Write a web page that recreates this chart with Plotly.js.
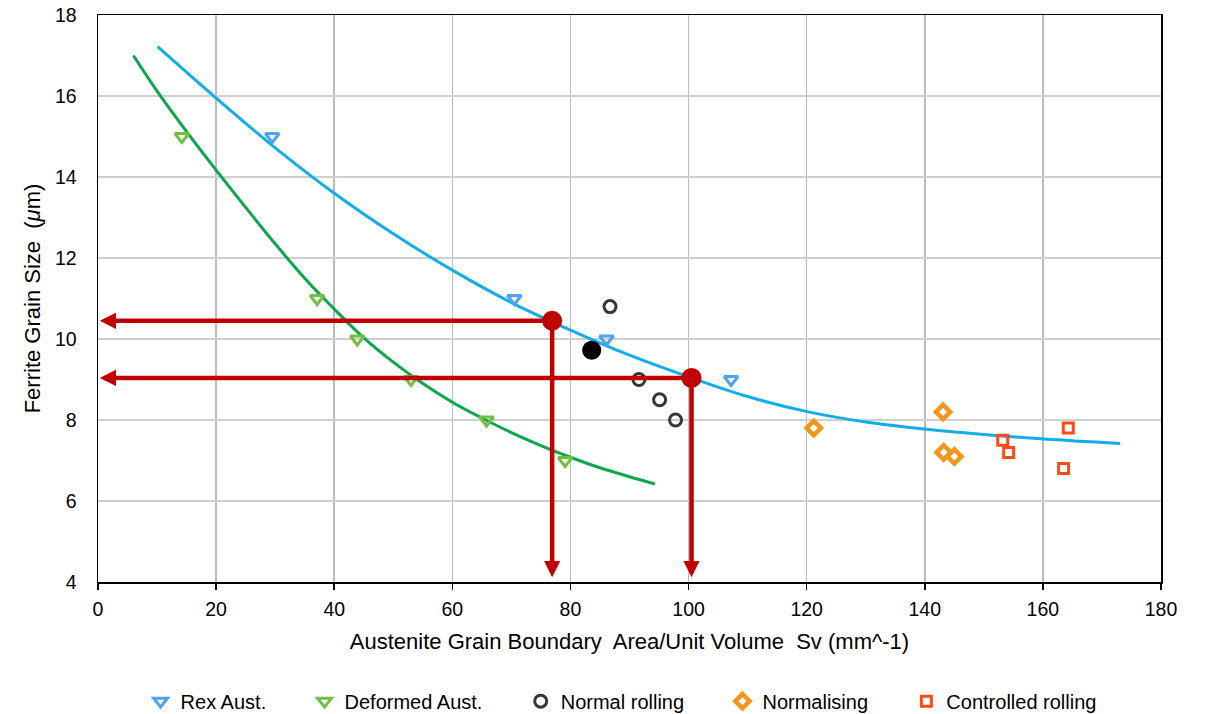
<!DOCTYPE html>
<html>
<head>
<meta charset="utf-8">
<script src="https://cdn.plot.ly/plotly-3.0.1.min.js"></script>
<style>html,body{margin:0;padding:0;background:#fff;}#chart{width:1206px;height:714px;}</style>
</head>
<body>
<div id="chart"></div>
<script>
// ---- data ----
var rexX = [29.5, 70.5, 86.1, 107.2];
var rexY = [15, 11, 10, 9];

var defX = [14.2, 37.1, 43.9, 53.0, 65.8, 79.1];
var defY = [15, 11, 10, 9, 8, 7];

var normRollX = [86.7, 91.6, 95.1, 97.8];
var normRollY = [10.8, 9.0, 8.5, 8.0];

var normalisingX = [121.2, 143.1, 143.2, 145.0];
var normalisingY = [7.8, 8.2, 7.2, 7.1];

var ctrlX = [153.2, 154.2, 164.3, 163.5];
var ctrlY = [7.5, 7.2, 7.8, 6.8];

// highlighted points
var blackX = [83.6];
var blackY = [9.72];
var redX = [76.9, 100.5];
var redY = [10.45, 9.04];
var arrowTipY = 4.12;   // bottom end of vertical arrows
var arrowTipX = 0.3;    // left end of horizontal arrows

// trend curves
var rexFitX = [10.1, 20, 30, 40, 50, 60, 70, 80, 90, 100.5, 110, 120.3, 130, 140.3, 150, 160.2, 173.1];
var rexFitY = [17.22, 15.95, 14.72, 13.6, 12.6, 11.7, 10.9, 10.22, 9.6, 9.04, 8.58, 8.2, 7.95, 7.77, 7.64, 7.53, 7.42];

var defFitX = [6, 10, 15, 20, 25, 30, 35, 40, 45, 50, 55, 60, 65, 70, 75, 80, 85, 90, 94.3];
var defFitY = [17.0, 16.12, 15.12, 14.17, 13.25, 12.35, 11.5, 10.74, 10.03, 9.43, 8.9, 8.44, 8.05, 7.69, 7.37, 7.08, 6.82, 6.6, 6.42];

var seriesNames = ['Rex Aust.', 'Deformed Aust.', 'Normal rolling', 'Normalising', 'Controlled rolling'];

var xTicks = [0, 20, 40, 60, 80, 100, 120, 140, 160, 180];
var yTicks = [4, 6, 8, 10, 12, 14, 16, 18];

var FONT = 'Liberation Sans, Arial, Helvetica, sans-serif';
var RED = '#c00000';
var PAD = '\u00a0\u00a0\u00a0\u00a0\u00a0\u00a0';
function legName(i) { return i < seriesNames.length - 1 ? seriesNames[i] + PAD : seriesNames[i]; }

var traces = [
  {x: rexFitX, y: rexFitY, mode: 'lines', line: {color: '#12aeea', width: 3, shape: 'spline'}, showlegend: false, hoverinfo: 'skip'},
  {x: defFitX, y: defFitY, mode: 'lines', line: {color: '#0aa84a', width: 3, shape: 'spline'}, showlegend: false, hoverinfo: 'skip'},
  {x: rexX, y: rexY, mode: 'markers', name: legName(0),
   marker: {symbol: 'triangle-down-open', size: 12, color: '#4ea2f2', line: {width: 3, color: '#4ea2f2'}}},
  {x: defX, y: defY, mode: 'markers', name: legName(1),
   marker: {symbol: 'triangle-down-open', size: 12, color: '#72bf44', line: {width: 3, color: '#72bf44'}}},
  {x: normRollX, y: normRollY, mode: 'markers', name: legName(2),
   marker: {symbol: 'circle-open', size: 12, color: '#363636', line: {width: 3, color: '#363636'}}},
  {x: normalisingX, y: normalisingY, mode: 'markers', name: legName(3),
   marker: {symbol: 'diamond-open', size: 11, color: '#f2971c', line: {width: 4.5, color: '#f2971c'}}},
  {x: ctrlX, y: ctrlY, mode: 'markers', name: legName(4),
   marker: {symbol: 'square-open', size: 10, color: '#ff4a1c', line: {width: 3, color: '#ff4a1c'}}},
  {x: blackX, y: blackY, mode: 'markers', showlegend: false,
   marker: {symbol: 'circle', size: 19, color: '#000000'}},
  {x: redX, y: redY, mode: 'markers', showlegend: false,
   marker: {symbol: 'circle', size: 20, color: RED}}
];

var annotations = [];
for (var i = 0; i < redX.length; i++) {
  annotations.push({x: arrowTipX, y: redY[i], ax: redX[i], ay: redY[i], xref: 'x', yref: 'y', axref: 'x', ayref: 'y',
    text: '', showarrow: true, arrowhead: 2, arrowsize: 0.72, arrowwidth: 4.5, arrowcolor: RED, standoff: 0});
  annotations.push({x: redX[i], y: arrowTipY, ax: redX[i], ay: redY[i], xref: 'x', yref: 'y', axref: 'x', ayref: 'y',
    text: '', showarrow: true, arrowhead: 2, arrowsize: 0.72, arrowwidth: 4.5, arrowcolor: RED, standoff: 0});
}

var layout = {
  width: 1206, height: 714,
  margin: {l: 98, r: 45, t: 15, b: 132},
  paper_bgcolor: '#ffffff', plot_bgcolor: '#ffffff',
  font: {family: FONT, size: 19.5, color: '#000'},
  showlegend: true,
  legend: {orientation: 'h', x: 0.515, xref: 'container', xanchor: 'center', y: 0.018, yref: 'container', yanchor: 'middle',
    font: {family: FONT, size: 20, color: '#000'}},
  xaxis: {range: [0, 180], tickvals: xTicks, ticktext: xTicks.map(String), showgrid: true, gridcolor: '#bcbcbc', gridwidth: 1.5,
    zeroline: false, showline: true, linecolor: '#000', linewidth: 1.5, mirror: true,
    ticks: 'outside', ticklen: 6, tickwidth: 1.5, tickcolor: '#000', ticklabelstandoff: 3,
    title: {text: 'Austenite Grain Boundary  Area/Unit Volume  Sv (mm^-1)', font: {family: FONT, size: 22}, standoff: 14}},
  yaxis: {range: [4, 18], tickvals: yTicks, ticktext: yTicks.map(String), showgrid: true, gridcolor: '#cfcfcf', gridwidth: 1.5,
    zeroline: false, showline: true, linecolor: '#000', linewidth: 1.5, mirror: true,
    ticks: '', ticklabelstandoff: 16,
    title: {text: 'Ferrite Grain Size  (<i>μ</i>m)', font: {family: FONT, size: 22}, standoff: 8}},
  annotations: annotations
};

Plotly.newPlot('chart', traces, layout, {displayModeBar: false, staticPlot: true});
</script>
</body>
</html>
